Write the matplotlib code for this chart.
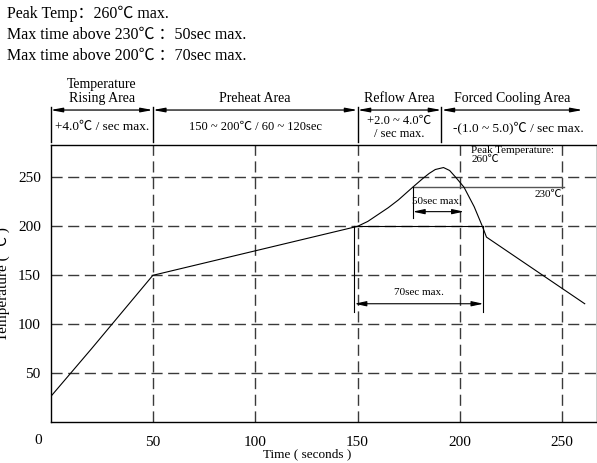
import matplotlib
matplotlib.use("Agg")
import matplotlib.pyplot as plt

FAM = ['Liberation Serif', 'Noto Sans CJK SC', 'DejaVu Sans']
plt.rcParams['font.family'] = FAM

# ---- data ----
time_s = [0, 20, 50, 150, 155, 160, 165, 170, 177, 182, 185, 188, 192, 195, 198, 202, 207, 211, 213, 261]
temp_c = [26, 75, 150, 200, 205, 212, 219, 227, 240, 249, 254, 258, 260, 257, 250, 240, 220, 200, 189, 121]

xticks = [50, 100, 150, 200, 250]
yticks = [50, 100, 150, 200, 250]

zone_edges = [0, 50, 150, 191, 260]
zone_names = ["Temperature\nRising Area", "Preheat Area", "Reflow Area", "Forced Cooling Area"]
zone_rates = ["+4.0℃ / sec max.", "150 ~ 200℃ / 60 ~ 120sec",
              "+2.0 ~ 4.0℃\n/ sec max.", "-(1.0 ~ 5.0)℃ / sec max."]
rate_sizes = [9.5, 9, 9, 9.5]

title_lines = ["Peak Temp：260℃ max.",
               "Max time above 230℃ ：50sec max.",
               "Max time above 200℃ ：70sec max."]

line230_y = 240
line230_x = [177, 251]
t50 = [177, 202]
line200_x = [148.5, 211.5]

fig = plt.figure(figsize=(5.97, 4.63), dpi=100)
ax = fig.add_axes([0.0846, 0.0879, 1.0 - 0.0846, 0.6868 - 0.0879])
ax.set_xlim(0, 267)
ax.set_ylim(0, 283)

for s in ax.spines.values():
    s.set_linewidth(1.0)
    s.set_color('black')

# grid
for xv in xticks:
    ax.plot([xv, xv], [0, 283], color='#3a3a3a', lw=1.0, dashes=(8, 4), zorder=1)
for yv in yticks:
    ax.plot([0, 267], [yv, yv], color='#3a3a3a', lw=1.0, dashes=(8, 4), zorder=1)

ax.set_xticks(xticks)
ax.set_yticks(yticks)
ax.tick_params(length=0, labelsize=11)
ax.tick_params(axis='x', pad=10)
ax.tick_params(axis='y', pad=7)
ax.text(-6, -12, "0", fontsize=11, ha='center', va='top', clip_on=False)

ax.set_xlabel("Time ( seconds )", fontsize=9.5, labelpad=0)
ax.xaxis.set_label_coords(0.47, -0.092)
ax.set_ylabel("Temperature ( ℃ )", fontsize=11)
ax.yaxis.set_label_coords(-0.074, 0.5)

# profile
ax.plot(time_s, temp_c, color='black', lw=0.8, zorder=3)

# 230 line and 50sec annotation
ax.plot(line230_x, [line230_y, line230_y], color='#555555', lw=1.0, zorder=2)
ax.text(250, 232, "230℃", fontsize=8, ha='right', va='center')
ax.plot([t50[0], t50[0]], [line230_y, 209], color='black', lw=0.8)
ax.annotate("", xy=(t50[1], 215), xytext=(t50[0], 215),
            arrowprops=dict(arrowstyle='<|-|>,head_length=0.7,head_width=0.15',
                            color='black', lw=0.8, shrinkA=0, shrinkB=0))
ax.text(t50[0] - 0.5, 225, "50sec max.", fontsize=8, ha='left', va='center')

# 200 line and 70sec annotation
ax.plot(line200_x, [200, 200], color='black', lw=0.8, zorder=2)
for xv in line200_x:
    ax.plot([xv, xv], [200, 113], color='black', lw=0.8)
ax.annotate("", xy=(line200_x[1], 121), xytext=(line200_x[0], 121),
            arrowprops=dict(arrowstyle='<|-|>,head_length=0.7,head_width=0.15',
                            color='black', lw=0.8, shrinkA=0, shrinkB=0))
ax.text(180, 132, "70sec max.", fontsize=8, ha='center', va='center')

ax.text(205.5, 281.5, "Peak Temperature:\n260℃", fontsize=8, ha='left', va='top',
        linespacing=1.0)

# header table (above axes, data coords)
y_arrow = 318.7
for i in range(4):
    x0, x1 = zone_edges[i], zone_edges[i + 1]
    ax.annotate("", xy=(x1, y_arrow), xytext=(x0, y_arrow), annotation_clip=False,
                arrowprops=dict(arrowstyle='<|-|>,head_length=0.7,head_width=0.13',
                                color='black', lw=0.9, shrinkA=0, shrinkB=0))
    xc = (x0 + x1) / 2
    ax.text(xc, 324, zone_names[i], fontsize=10, ha='center', va='bottom',
            linespacing=1.05, clip_on=False)
    ax.text(xc + (3 if i == 3 else 0), 301, zone_rates[i], fontsize=rate_sizes[i],
            ha='center', va='center', linespacing=1.05, clip_on=False)
for xe in zone_edges[:4]:
    ax.plot([xe, xe], [286, 321.7], color='black', lw=1.0, clip_on=False)

# title lines
for k, t in enumerate(title_lines):
    fig.text(0.012, 1 - (14 + 21 * k) / 463, t, fontsize=11.5, ha='left', va='center')

fig.savefig("out.png", dpi=100)
